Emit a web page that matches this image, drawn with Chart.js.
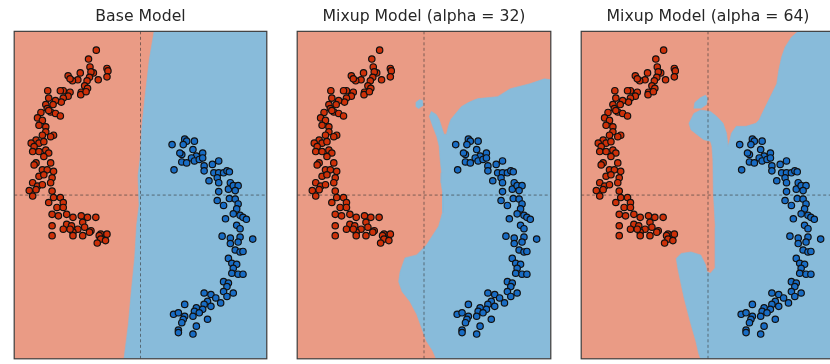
<!DOCTYPE html>
<html>
<head>
<meta charset="utf-8">
<script src="https://cdn.jsdelivr.net/npm/chart.js@4.4.1/dist/chart.umd.min.js"></script>
<style>
  html, body { margin: 0; padding: 0; background: #fff; overflow: hidden; }
  body { width: 830px; height: 364px; position: relative; }
  .panel { position: absolute; top: 0; height: 364px; }
</style>
</head>
<body>
<div class="panel" style="left:9px;width:263px"><canvas id="base_chart"></canvas></div>
<div class="panel" style="left:292px;width:264px"><canvas id="mixup32_chart"></canvas></div>
<div class="panel" style="left:576px;width:264px"><canvas id="mixup64_chart"></canvas></div>
<script>
const TITLES = [
  'Base Model',
  'Mixup Model (alpha = 32)',
  'Mixup Model (alpha = 64)'
]

const X_LIMITS = [-2.6, 2.6]
const Y_LIMITS = [-3.31, 3.31]

// class 0 (left arc)
const red_points = [
  [-0.91, 2.93], [-1.07, 2.75], [-1.04, 2.59], [-0.69, 2.56], [-0.67, 2.51],
  [-0.69, 2.39], [-0.97, 2.47], [-1.02, 2.49], [-1.24, 2.47], [-0.87, 2.33],
  [-1.05, 2.38], [-1.10, 2.31], [-1.29, 2.33], [-1.40, 2.31], [-1.49, 2.41],
  [-1.45, 2.35], [-1.15, 2.21], [-1.22, 2.08], [-1.23, 2.03], [-1.09, 2.16],
  [-1.12, 2.09], [-1.45, 2.08], [-1.49, 2.00], [-1.59, 2.11], [-1.65, 2.11],
  [-1.91, 2.11], [-1.89, 1.96], [-1.95, 1.83], [-1.59, 1.96], [-1.63, 1.88],
  [-1.75, 1.91], [-1.80, 1.83], [-1.92, 1.75], [-1.85, 1.68], [-1.75, 1.65],
  [-1.65, 1.60], [-2.05, 1.67], [-2.12, 1.56], [-1.89, 1.71], [-2.02, 1.51],
  [-2.09, 1.41], [-1.95, 1.38], [-1.95, 1.28], [-1.79, 1.21], [-1.85, 1.18],
  [-2.02, 1.21], [-2.15, 1.11], [-2.25, 1.05], [-2.09, 1.05], [-1.99, 1.08],
  [-2.19, 0.98], [-2.22, 0.88], [-2.09, 0.88], [-1.95, 0.91], [-1.89, 0.85],
  [-1.99, 0.78], [-2.15, 0.65], [-2.19, 0.61], [-2.02, 0.51], [-1.92, 0.51],
  [-1.85, 0.65], [-1.79, 0.48], [-2.09, 0.38], [-1.99, 0.41], [-1.82, 0.35],
  [-2.22, 0.25], [-2.12, 0.18], [-2.02, 0.21], [-1.85, 0.25], [-2.29, 0.09],
  [-2.15, 0.11], [-2.22, -0.02], [-1.82, 0.08], [-1.79, -0.05], [-1.89, -0.15],
  [-1.65, -0.05], [-1.59, -0.15], [-1.72, -0.25], [-1.82, -0.39], [-1.69, -0.42],
  [-1.59, -0.25], [-1.52, -0.39], [-1.39, -0.45], [-1.22, -0.42], [-1.09, -0.45],
  [-0.92, -0.45], [-1.52, -0.59], [-1.82, -0.62], [-1.42, -0.62], [-1.19, -0.55],
  [-1.15, -0.65], [-1.29, -0.69], [-1.02, -0.72], [-0.82, -0.79], [-0.69, -0.79],
  [-1.39, -0.75], [-1.82, -0.82], [-1.59, -0.69], [-1.45, -0.69], [-1.39, -0.82],
  [-1.19, -0.82], [-1.05, -0.75], [-0.85, -0.82], [-0.82, -0.89], [-0.72, -0.92],
  [-0.89, -0.97]
]

// class 1 (right arc)
const blue_points = [
  [0.91, 1.13], [0.65, 1.02], [0.95, 1.09], [1.11, 1.09], [0.88, 1.02],
  [1.08, 0.92], [0.85, 0.82], [0.81, 0.85], [1.28, 0.85], [1.15, 0.79],
  [1.05, 0.75], [0.85, 0.67], [0.95, 0.65], [1.11, 0.69], [1.21, 0.72],
  [1.28, 0.75], [1.31, 0.59], [1.31, 0.49], [1.48, 0.62], [1.61, 0.69],
  [1.51, 0.45], [1.61, 0.45], [1.71, 0.45], [1.78, 0.49], [1.83, 0.47],
  [1.41, 0.29], [1.58, 0.35], [1.61, 0.25], [1.85, 0.25], [1.81, 0.12],
  [1.91, 0.19], [2.01, 0.19], [1.95, 0.09], [1.61, 0.07], [1.58, -0.11],
  [1.71, -0.21], [1.83, -0.07], [1.95, -0.08], [2.01, -0.18], [1.98, -0.28],
  [1.91, -0.38], [2.05, -0.41], [2.11, -0.45], [2.18, -0.49], [1.75, -0.48],
  [1.98, -0.61], [2.05, -0.68], [2.05, -0.85], [1.68, -0.83], [1.85, -0.87],
  [1.85, -0.98], [2.31, -0.89], [2.01, -0.95], [1.95, -1.11], [2.05, -1.15],
  [2.11, -1.14], [1.81, -1.28], [1.88, -1.38], [1.98, -1.40], [1.91, -1.48],
  [1.88, -1.58], [2.01, -1.60], [2.11, -1.60], [1.71, -1.75], [1.81, -1.78],
  [1.78, -1.85], [1.71, -1.95], [1.91, -1.98], [1.78, -2.05], [1.65, -2.18],
  [1.45, -2.01], [1.31, -1.98], [1.55, -2.08], [1.38, -2.15], [1.31, -2.21],
  [1.45, -2.25], [1.28, -2.31], [1.15, -2.28], [1.11, -2.35], [1.21, -2.38],
  [0.91, -2.21], [0.68, -2.41], [0.78, -2.38], [0.91, -2.45], [1.08, -2.45],
  [0.88, -2.51], [0.85, -2.58], [1.38, -2.51], [1.15, -2.65], [0.78, -2.73],
  [0.78, -2.78], [1.08, -2.81], [0.69, 0.51]
]

// blue decision regions, everything else is the red class
const base_region = [
  [0.28, 3.31], [0.18, 2.73], [0.10, 2.05], [0.03, 1.39], [-0.01, 0.73],
  [-0.05, 0.39], [-0.03, -0.21], [-0.08, -0.61], [-0.12, -1.27], [-0.19, -1.95],
  [-0.25, -2.61], [-0.34, -3.31], [2.6, -3.31], [2.6, 3.31]
]

const mixup32_region = [
  [2.6, 2.33], [2.47, 2.35], [2.17, 2.25], [1.77, 2.15], [1.51, 1.99],
  [1.11, 1.95], [1.05, 1.93], [0.91, 1.87], [0.77, 1.79], [0.65, 1.65],
  [0.55, 1.53], [0.50, 1.39], [0.46, 1.23], [0.41, 1.23], [0.31, 1.53],
  [0.25, 1.63], [0.15, 1.69], [0.11, 1.59], [0.18, 1.39], [0.26, 1.19],
  [0.31, 0.99], [0.33, 0.73], [0.36, 0.45], [0.35, 0.25], [0.38, 0.05],
  [0.38, -0.35], [0.30, -0.63], [0.18, -0.81], [0.05, -1.01], [-0.15, -1.21],
  [-0.39, -1.27], [-0.49, -1.55], [-0.52, -1.75], [-0.45, -1.95], [-0.29, -2.15],
  [-0.15, -2.41], [-0.05, -2.68], [0.05, -2.95], [0.18, -3.15], [0.25, -3.31],
  [2.6, -3.31]
]

const mixup32_island = [
  [-0.17, 1.87], [-0.09, 1.93], [-0.03, 1.91], [-0.02, 1.81], [-0.11, 1.75],
  [-0.17, 1.79]
]

const mixup64_region = [
  [1.85, 3.31], [1.71, 3.19], [1.58, 2.99], [1.51, 2.79], [1.45, 2.52],
  [1.41, 2.25], [1.31, 2.05], [1.21, 1.85], [1.11, 1.65], [1.05, 1.52],
  [0.98, 1.45], [0.78, 1.39], [0.58, 1.39], [0.48, 1.25], [0.45, 1.12],
  [0.41, 0.99], [0.38, 1.25], [0.31, 1.45], [0.18, 1.59], [0.05, 1.69],
  [-0.15, 1.72], [-0.29, 1.65], [-0.39, 1.45], [-0.35, 1.32], [-0.22, 1.22],
  [-0.09, 1.12], [0.05, 1.09], [0.08, 0.99], [0.10, 0.72], [0.11, 0.05],
  [0.15, -0.65], [0.15, -1.47], [0.05, -1.58], [-0.02, -1.55], [-0.05, -1.41],
  [-0.15, -1.21], [-0.35, -1.15], [-0.55, -1.18], [-0.65, -1.28], [-0.62, -1.48],
  [-0.55, -1.81], [-0.49, -2.08], [-0.42, -2.35], [-0.35, -2.61], [-0.25, -2.95],
  [-0.19, -3.21], [-0.15, -3.31], [2.6, -3.31], [2.6, 3.31]
]

const mixup64_island = [
  [-0.29, 1.75], [-0.27, 1.87], [-0.15, 1.97], [-0.05, 2.02], [-0.01, 1.95],
  [-0.03, 1.83], [-0.15, 1.75]
]

const RED_REGION = 'rgb(234, 155, 133)'
const BLUE_REGION = 'rgb(136, 187, 218)'
const RED_POINT = 'rgb(206, 48, 8)'
const BLUE_POINT = 'rgb(24, 108, 196)'

const toXY = pairs => pairs.map(p => ({ x: p[0], y: p[1] }))

const panel_plugin = {
  id: 'panel',
  beforeDraw (chart) {
    const { ctx, chartArea } = chart
    ctx.save()
    ctx.fillStyle = RED_REGION
    ctx.fillRect(chartArea.left, chartArea.top, chartArea.width, chartArea.height)
    ctx.restore()
  },
  afterDraw (chart) {
    const { ctx, chartArea } = chart
    ctx.save()
    ctx.strokeStyle = '#3d3d3d'
    ctx.lineWidth = 1.2
    ctx.strokeRect(chartArea.left, chartArea.top, chartArea.width, chartArea.height)
    ctx.restore()
  }
}

function regionSet (pairs) {
  return {
    data: toXY(pairs),
    showLine: true,
    fill: 'shape',
    backgroundColor: BLUE_REGION,
    borderColor: BLUE_REGION,
    borderWidth: 0.6,
    pointRadius: 0,
    order: 3
  }
}

function crossSet (pairs) {
  return {
    data: toXY(pairs),
    showLine: true,
    fill: false,
    borderColor: 'rgba(50, 50, 50, 0.75)',
    borderWidth: 0.8,
    borderDash: [3, 2.5],
    pointRadius: 0,
    order: 2
  }
}

function pointSet (pairs, color) {
  return {
    data: toXY(pairs),
    backgroundColor: color,
    borderColor: '#111',
    borderWidth: 1.2,
    pointRadius: 3.2,
    order: 1
  }
}

function makePanel (canvas_id, title, regions) {
  new Chart(document.getElementById(canvas_id), {
    type: 'scatter',
    data: {
      datasets: [
        ...regions.map(regionSet),
        crossSet([[0, Y_LIMITS[0]], [0, Y_LIMITS[1]]]),
        crossSet([[X_LIMITS[0], 0], [X_LIMITS[1], 0]]),
        pointSet(red_points, RED_POINT),
        pointSet(blue_points, BLUE_POINT)
      ]
    },
    options: {
      animation: false,
      responsive: true,
      maintainAspectRatio: false,
      events: [],
      layout: { padding: { left: 2, right: 2, top: 0, bottom: 1.5 } },
      plugins: {
        legend: { display: false },
        tooltip: { enabled: false },
        title: {
          display: true,
          text: title,
          color: '#262626',
          font: { family: "'DejaVu Sans'", size: 15.7, weight: 'normal', lineHeight: 1.2 },
          padding: { top: 7.6, bottom: 4.9 }
        }
      },
      scales: {
        x: { display: false, min: X_LIMITS[0], max: X_LIMITS[1] },
        y: { display: false, min: Y_LIMITS[0], max: Y_LIMITS[1] }
      }
    },
    plugins: [panel_plugin]
  })
}

makePanel('base_chart', TITLES[0], [base_region])
makePanel('mixup32_chart', TITLES[1], [mixup32_region, mixup32_island])
makePanel('mixup64_chart', TITLES[2], [mixup64_region, mixup64_island])
</script>
</body>
</html>
